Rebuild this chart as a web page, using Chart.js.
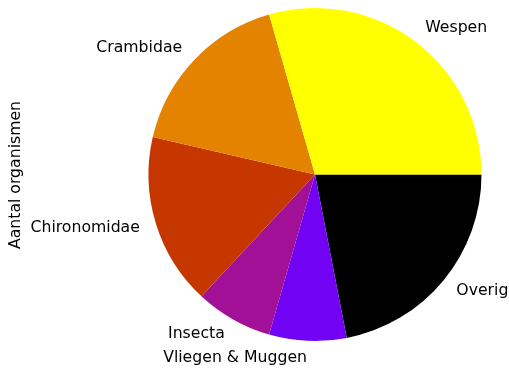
<!DOCTYPE html>
<html>
<head>
<meta charset="utf-8">
<script src="https://cdn.jsdelivr.net/npm/chart.js@4/dist/chart.umd.min.js"></script>
<style>
  html, body { margin: 0; padding: 0; background: #fff; }
  #wrap { width: 509px; height: 371px; }
</style>
</head>
<body>
<div id="wrap"><canvas id="myChart" width="509" height="371"></canvas></div>
<script>
'use strict';

// groups counted, in the order they go round the pie (counter-clockwise from 3 o'clock)
let groupNames = ['Wespen', 'Crambidae', 'Chironomidae', 'Insecta', 'Vliegen & Muggen', 'Overig'];
let groupCounts = [106, 61, 60, 27, 27, 79];
let groupColors = ['#ffff00', '#e48300', '#c63700', '#a11096', '#7202f3', '#000000'];

let axisTitle = 'Aantal organismen';
let labelFont = '15.7px "DejaVu Sans"';

// Chart.js draws clockwise, so feed it reversed and start at 3 o'clock
let names = groupNames.slice().reverse();
let counts = groupCounts.slice().reverse();
let colors = groupColors.slice().reverse();

let sliceLabels = {
  id: 'sliceLabels',
  afterDraw(chart) {
    let ctx = chart.ctx;
    let arcs = chart.getDatasetMeta(0).data;
    ctx.save();
    ctx.font = labelFont;
    ctx.fillStyle = '#000';
    ctx.textBaseline = 'middle';
    for (let i = 0; i < arcs.length; i++) {
      let arc = arcs[i];
      let mid = (arc.startAngle + arc.endAngle) / 2;
      let r = arc.outerRadius * 1.1;
      let x = arc.x + Math.cos(mid) * r;
      let y = arc.y + Math.sin(mid) * r;
      ctx.textAlign = Math.cos(mid) > 0 ? 'left' : 'right';
      ctx.fillText(names[i], x, y);
    }
    // y axis title
    ctx.translate(16, 175);
    ctx.rotate(-Math.PI / 2);
    ctx.textAlign = 'center';
    ctx.fillText(axisTitle, 0, 0);
    ctx.restore();
  }
};

let ctx = document.getElementById('myChart').getContext('2d');
let myChart = new Chart(ctx, {
  type: 'pie',
  data: {
    labels: names,
    datasets: [{
      data: counts,
      backgroundColor: colors,
      borderWidth: 0,
      hoverOffset: 0
    }]
  },
  options: {
    responsive: false,
    animation: false,
    rotation: 90,
    layout: {
      padding: { left: 148.5, right: 27.5, top: 8, bottom: 30 }
    },
    plugins: {
      legend: { display: false },
      tooltip: { enabled: false }
    }
  },
  plugins: [sliceLabels]
});
</script>
</body>
</html>
